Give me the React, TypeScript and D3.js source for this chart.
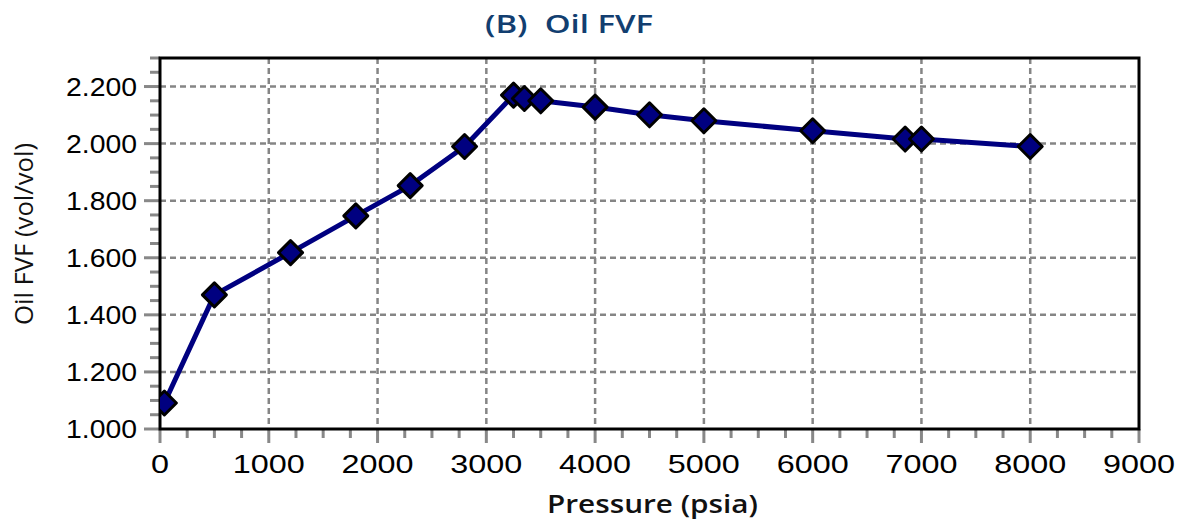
import React from "react";
import * as d3 from "d3";

const pressure = [40, 500, 1200, 1800, 2300, 2800, 3250, 3350, 3500, 4000, 4500, 5000, 6000, 6850, 7000, 8000];
const oilFVF = [1.091, 1.470, 1.618, 1.747, 1.853, 1.990, 2.170, 2.158, 2.150, 2.128, 2.101, 2.080, 2.045, 2.016, 2.016, 1.990];
const xTicks = [0, 1000, 2000, 3000, 4000, 5000, 6000, 7000, 8000, 9000];
const yTicks = [1.0, 1.2, 1.4, 1.6, 1.8, 2.0, 2.2];
const title = "(B)\u00a0\u00a0Oil FVF";
const xLabel = "Pressure (psia)";
const yLabel = "Oil FVF (vol/vol)";

const W = 1186, H = 519;
const L = 160, R = 1139, T = 58, B = 429;

export default function App() {
  const x = d3.scaleLinear().domain([0, 9000]).range([L, R]);
  const y = d3.scaleLinear().domain([1.0, 2.3]).range([B, T]);
  const line = d3.line<number>().x((_, i) => x(pressure[i])).y((d) => y(d));
  const xMinor = d3.range(0, 9000, 250).filter((v) => v % 1000 !== 0);
  const yMinor = d3.range(1.0, 2.3001, 0.05).filter((v) => Math.abs(Math.round(v * 5) - v * 5) > 1e-6);
  const tickFont = "'Liberation Sans', Arial, sans-serif";
  const labelFont = "'Open Sans', sans-serif";
  return (
    <svg width={W} height={H} style={{ display: "block", position: "absolute", left: 0, top: 0 }}>
      <defs>
        <clipPath id="plot">
          <rect x={L} y={T} width={R - L} height={B - T} />
        </clipPath>
      </defs>
      <rect width={W} height={H} fill="#fff" />
      {/* grid */}
      {xTicks.slice(1, -1).map((t) => (
        <line key={"gx" + t} x1={x(t)} x2={x(t)} y1={T} y2={B} stroke="#858585" strokeWidth={2.5} strokeDasharray="6,4" />
      ))}
      {yTicks.slice(1).map((t) => (
        <line key={"gy" + t} x1={L} x2={R} y1={y(t)} y2={y(t)} stroke="#858585" strokeWidth={2.5} strokeDasharray="6,4" />
      ))}
      {/* ticks */}
      {xTicks.map((t) => (
        <line key={"tx" + t} x1={x(t)} x2={x(t)} y1={B} y2={B + 14} stroke="#888" strokeWidth={3} />
      ))}
      {xMinor.map((t) => (
        <line key={"mx" + t} x1={x(t)} x2={x(t)} y1={B} y2={B + 9} stroke="#888" strokeWidth={3} />
      ))}
      {yTicks.map((t) => (
        <line key={"ty" + t} x1={L - 16} x2={L} y1={y(t)} y2={y(t)} stroke="#888" strokeWidth={3} />
      ))}
      {yMinor.map((t) => (
        <line key={"my" + t} x1={L - 10} x2={L} y1={y(t)} y2={y(t)} stroke="#888" strokeWidth={3} />
      ))}
      {/* frame */}
      <rect x={L} y={T} width={R - L} height={B - T} fill="none" stroke="#000" strokeWidth={3} />
      {/* series */}
      <g clipPath="url(#plot)">
        <path d={line(oilFVF) || ""} fill="none" stroke="#000080" strokeWidth={5} strokeLinejoin="round" />
        {oilFVF.map((v, i) => {
          const cx = x(pressure[i]);
          const cy = y(v);
          const r = 12;
          return (
            <path key={"p" + i} d={`M${cx},${cy - r}L${cx + r},${cy}L${cx},${cy + r}L${cx - r},${cy}Z`} fill="#000080" stroke="#000" strokeWidth={3} strokeLinejoin="round" />
          );
        })}
      </g>
      {/* tick labels */}
      {xTicks.map((t) => (
        <text key={"lx" + t} x={x(t)} y={473} textAnchor="middle" fontFamily={tickFont} fontSize={25.5} fill="#000"
          textLength={String(t).length * 18} lengthAdjust="spacingAndGlyphs">
          {t}
        </text>
      ))}
      {yTicks.map((t) => (
        <text key={"ly" + t} x={137 - 71} y={y(t) + 9} fontFamily={tickFont} fontSize={25.5} fill="#000"
          textLength={71} lengthAdjust="spacingAndGlyphs">
          {d3.format(".3f")(t)}
        </text>
      ))}
      {/* titles */}
      <text x={485} y={33} fontFamily={labelFont} fontWeight={600} fontSize={25} fill="#123e70"
        textLength={168} lengthAdjust="spacingAndGlyphs">
        {title}
      </text>
      <text x={547} y={513} fontFamily={labelFont} fontWeight={600} fontSize={25} fill="#111"
        textLength={211} lengthAdjust="spacingAndGlyphs">
        {xLabel}
      </text>
      <text transform={`translate(33,325) rotate(-90)`} fontFamily={labelFont} fontWeight={400} fontSize={25} fill="#111"
        textLength={182} lengthAdjust="spacingAndGlyphs">
        {yLabel}
      </text>
    </svg>
  );
}
